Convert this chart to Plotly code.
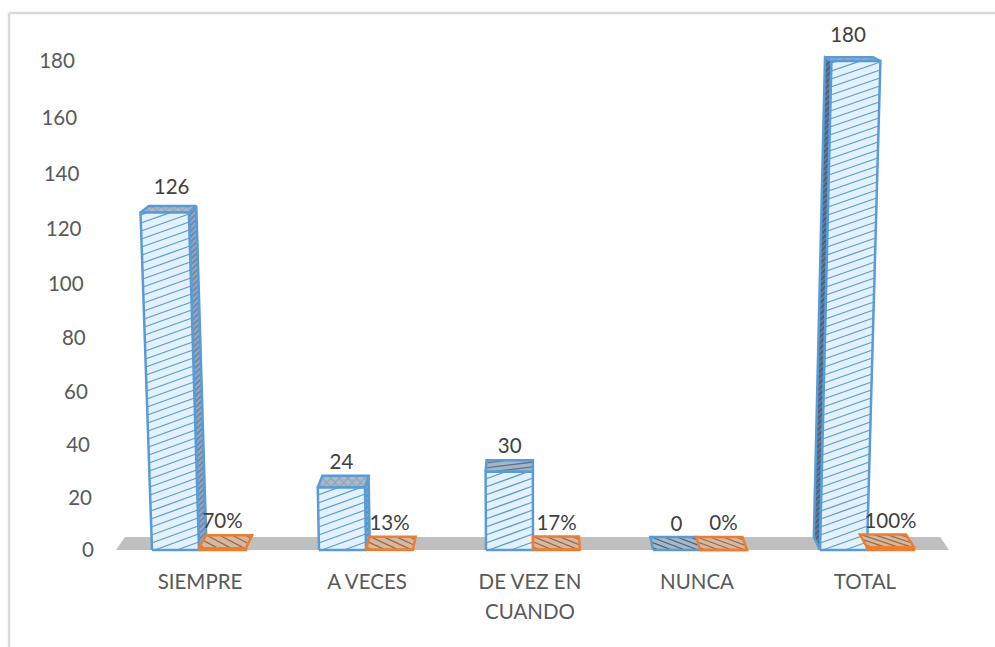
# bars3d.py
import plotly.graph_objects as go

categories = ['SIEMPRE', 'A VECES', 'DE VEZ EN<br>CUANDO', 'NUNCA', 'TOTAL']
counts = [126, 24, 30, 0, 180]
shares = [0.70, 0.13, 0.17, 0, 1.00]
share_labels = ['70%', '13%', '17%', '0%', '100%']
axis_ticks = [0, 20, 40, 60, 80, 100, 120, 140, 160, 180]

# the source is a perspective chart, so all geometry goes through these helpers
STEP = 167.0
BAR_W = 47.0
ORIGIN = 199.0
FONT = 'Lato'
LABEL_NUDGE = [0.006, 0.006, -0.018, -0.018, -0.012]
COUNT_NUDGE = [-1, -4, 0, 3, -1]
PLOT_H = 540


def warp(v):
    # value -> height above the floor, spacing grows towards the top
    return 2.589 * v + 0.000708 * v * v


def project(x, h, depth=0.0):
    # x in group units, h in height units, depth 0 = front, 1 = back
    px = ORIGIN + x * STEP
    px = px + (px - 548) * 8.6e-5 * h
    px = px - (px - 533) * 0.0215 * depth
    return (px - ORIGIN) / STEP, h + (13 - 0.019 * h) * depth


def poly(points, line, fill=None, pattern=None, width=2.5):
    xs = [p[0] for p in points] + [points[0][0]]
    ys = [p[1] for p in points] + [points[0][1]]
    return go.Scatter(x=xs, y=ys, mode='lines', fill='toself', fillcolor=fill,
                      fillpattern=pattern, line=dict(color=line, width=width),
                      hoverinfo='skip', showlegend=False)


def hatch(corners, gap, rise, color, width=1.3):
    # slanted stripes on a four sided face, gap and rise as fractions of its height
    p00, p10, p11, p01 = corners
    xs, ys = [], []
    t = -abs(rise) - gap
    while t < 1 + abs(rise):
        # clip the stripe to the face
        lims = sorted([(0 - t) / rise, (1 - t) / rise])
        s0, s1 = max(0.0, lims[0]), min(1.0, lims[1])
        if s1 > s0:
            for s in (s0, s1):
                v = t + rise * s
                bx = p00[0] + (p10[0] - p00[0]) * s
                by = p00[1] + (p10[1] - p00[1]) * s
                tx = p01[0] + (p11[0] - p01[0]) * s
                ty = p01[1] + (p11[1] - p01[1]) * s
                xs.append(bx + (tx - bx) * v)
                ys.append(by + (ty - by) * v)
            xs.append(None)
            ys.append(None)
        t += gap
    return go.Scatter(x=xs, y=ys, mode='lines', line=dict(color=color, width=width),
                      hoverinfo='skip', showlegend=False)


def face(corners, line, fill, stripe, gap, rise):
    xs = [c[0] for c in corners] + [corners[0][0]]
    ys = [c[1] for c in corners] + [corners[0][1]]
    return [go.Scatter(x=xs, y=ys, mode='lines', fill='toself', fillcolor=fill,
                       line=dict(width=0), hoverinfo='skip', showlegend=False),
            hatch(corners, gap, rise, stripe),
            go.Scatter(x=xs, y=ys, mode='lines', line=dict(color=line, width=2.5),
                       hoverinfo='skip', showlegend=False)]


BLUE = '#5B9BD5'
ORANGE = '#ED7D31'
blue_side = dict(shape='/', fgcolor='#3F5F80', bgcolor='#8FA9C4', size=4, solidity=0.4)
blue_side_dark = dict(shape='/', fgcolor='#2F3F55', bgcolor='#5F7F9F', size=4, solidity=0.5)
blue_top = dict(shape='x', fgcolor='#6F8398', bgcolor='#A9BBCB', size=6, solidity=0.3)

data = []

# floor
floor_x0 = (116 - ORIGIN) / STEP
floor_x1 = (949 - ORIGIN) / STEP
data.append(poly([project(floor_x0, 0), project(floor_x1, 0),
                  project(floor_x1, 0, 1), project(floor_x0, 0, 1)],
                 '#BFBFBF', fill='#BFBFBF', width=0))

bw = BAR_W / STEP
for i, v in enumerate(counts):
    x0, x1 = i - bw, float(i)
    h = warp(v)
    # side face only shows on the side facing the middle of the chart
    if v > 0 and i < 2:
        data.append(poly([project(x1, 0), project(x1, h), project(x1, h, 1), project(x1, 0, 1)],
                         BLUE, pattern=blue_side))
    elif v > 0 and i > 2:
        data.append(poly([project(x0, 0), project(x0, h), project(x0, h, 1), project(x0, 0, 1)],
                         BLUE, pattern=blue_side_dark))
    top = [project(x0, h), project(x1, h), project(x1, h, 1), project(x0, h, 1)]
    if v == 0:
        data += face(top, BLUE, '#A7B8C6', '#47617A', 0.42, -1.5)
    elif i == 2:
        data += face(top, BLUE, '#A3B5C6', '#5F7183', 0.42, 0.5)
    else:
        data.append(poly(top, BLUE, pattern=blue_top))
    if v > 0:
        front = [project(x0, 0), project(x1, 0), project(x1, h), project(x0, h)]
        data += face(front, BLUE, '#E3F1FB', BLUE, 8.0 / h, 17.0 / h)

for i, v in enumerate(shares):
    x0, x1 = float(i), i + bw
    h = warp(v)
    top = [project(x0, h), project(x1, h), project(x1, h, 1), project(x0, h, 1)]
    data += face(top, ORANGE, '#D2B9A3', '#A5673F', 0.42, -1.5)
    data.append(poly([project(x0, 0), project(x1, 0), project(x1, h), project(x0, h)],
                     ORANGE, fill=ORANGE))

# y axis labels lean with the perspective
tick_x = [project((94 - ORIGIN) / STEP, warp(t))[0] for t in axis_ticks]
data.append(go.Scatter(x=tick_x, y=[warp(t) - 2 for t in axis_ticks], mode='text',
                       text=[str(t) for t in axis_ticks], textposition='middle left',
                       textfont=dict(family=FONT, size=20.5, color='#595959'),
                       hoverinfo='skip', showlegend=False, cliponaxis=False))

# value labels
count_x = [project(i - bw / 2, warp(v), 1)[0] + COUNT_NUDGE[i] / STEP for i, v in enumerate(counts)]
count_y = [warp(v) + 24 for v in counts]
data.append(go.Scatter(x=count_x, y=count_y, mode='text', text=[str(v) for v in counts],
                       textposition='middle center',
                       textfont=dict(family=FONT, size=20.5, color='#404040'),
                       hoverinfo='skip', showlegend=False, cliponaxis=False))
share_x = [i + bw / 2 for i in range(len(shares))]
share_y = [warp(v) + 25 for v in shares]
data.append(go.Scatter(x=share_x, y=share_y, mode='text', text=share_labels,
                       textposition='middle center',
                       textfont=dict(family=FONT, size=20.5, color='#404040'),
                       hoverinfo='skip', showlegend=False, cliponaxis=False))

# wider line spacing than plotly gives, so the tick font is bigger than the spans inside it
tick_text = ['<br>'.join('<span style="font-size:20.5px">%s</span>' % part for part in c.split('<br>'))
             for c in categories]

layout = go.Layout(
    width=995, height=647,
    margin=dict(l=0, r=0, t=20, b=87),
    paper_bgcolor='white', plot_bgcolor='white',
    showlegend=False,
    xaxis=dict(range=[-ORIGIN / STEP, (995 - ORIGIN) / STEP],
               tickvals=[i + n for i, n in enumerate(LABEL_NUDGE)], ticktext=tick_text,
               showgrid=False, zeroline=False, showline=False,
               ticks='outside', ticklen=0, tickcolor='rgba(0,0,0,0)',
               tickfont=dict(family=FONT, size=23, color='#595959')),
    yaxis=dict(range=[-10, 530], visible=False),
    shapes=[dict(type='line', xref='paper', yref='paper', x0=9 / 995, x1=9 / 995,
                 y0=-87 / PLOT_H, y1=547 / PLOT_H, line=dict(color='#D9D9D9', width=2.5)),
            dict(type='line', xref='paper', yref='paper', x0=9 / 995, x1=1,
                 y0=547 / PLOT_H, y1=547 / PLOT_H, line=dict(color='#D9D9D9', width=2.5))],
)

fig = go.Figure(data=data, layout=layout)
fig.write_html('out.html', config={'displayModeBar': False},
               post_script="document.body.style.margin='0';")
